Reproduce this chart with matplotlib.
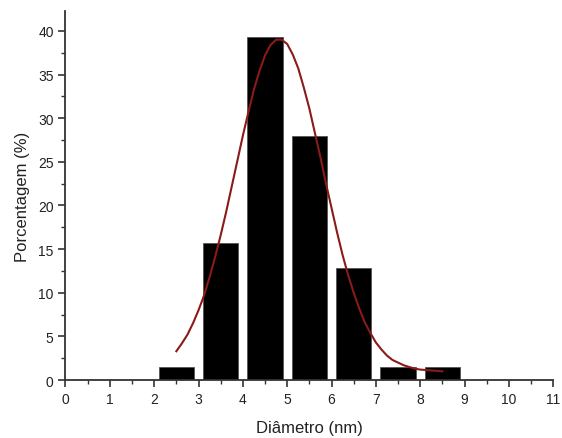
import matplotlib.pyplot as plt
from matplotlib.ticker import MultipleLocator

plt.rcParams['font.family'] = ['Liberation Sans', 'DejaVu Sans']

# histogram bins (nm) and percentages
diametro = [2.5, 3.5, 4.5, 5.5, 6.5, 7.5, 8.5]
porcentagem = [1.5, 15.7, 39.3, 28.0, 12.8, 1.5, 1.5]

# gaussian fit curve
fit_x = [2.500, 2.625, 2.750, 2.875, 3.000, 3.125, 3.250, 3.375, 3.500,
         3.625, 3.750, 3.875, 4.000, 4.125, 4.250, 4.375, 4.500, 4.625,
         4.750, 4.875, 5.000, 5.125, 5.250, 5.375, 5.500, 5.625, 5.750,
         5.875, 6.000, 6.125, 6.250, 6.375, 6.500, 6.625, 6.750, 6.875,
         7.000, 7.125, 7.250, 7.375, 7.500, 7.625, 7.750, 7.875, 8.000,
         8.125, 8.250, 8.375, 8.500]
fit_y = [3.3, 4.2, 5.2, 6.5, 8.0, 9.7, 11.8, 14.1, 16.6,
         19.3, 22.2, 25.1, 28.0, 30.7, 33.3, 35.4, 37.2, 38.4,
         39.0, 39.0, 38.5, 37.3, 35.7, 33.5, 31.1, 28.3, 25.5,
         22.5, 19.7, 16.9, 14.3, 12.0, 10.0, 8.2, 6.6, 5.4,
         4.3, 3.5, 2.8, 2.3, 2.0, 1.7, 1.5, 1.3, 1.2,
         1.15, 1.1, 1.05, 1.0]

fig = plt.figure(figsize=(5.62, 4.39), dpi=100)
ax = fig.add_axes([0.1165, 0.132, 0.868, 0.841])

ax.bar(diametro, porcentagem, width=0.8, color="black", edgecolor="#555555", linewidth=0.6, zorder=2)
ax.plot(fit_x, fit_y, color="#8b1a1a", linewidth=1.5, zorder=3)

ax.set_xlim(0, 11)
ax.set_ylim(0, 42.3)
ax.xaxis.set_major_locator(MultipleLocator(1))
ax.xaxis.set_minor_locator(MultipleLocator(0.5))
ax.yaxis.set_major_locator(MultipleLocator(5))
ax.yaxis.set_minor_locator(MultipleLocator(2.5))

for side in ["top", "right"]:
    ax.spines[side].set_visible(False)
for side in ["left", "bottom"]:
    ax.spines[side].set_color("#333333")
    ax.spines[side].set_linewidth(1.3)

ax.tick_params(which="major", direction="out", length=5, width=1.2, color="#333333",
               labelsize=10, labelcolor="#222222")
ax.tick_params(which="minor", direction="out", length=3, width=1.0, color="#333333")

ax.set_xlabel("Diâmetro (nm)", fontsize=12, color="#222222", labelpad=10)
ax.set_ylabel("Porcentagem (%)", fontsize=12, color="#222222", labelpad=6)

fig.savefig("out.png", dpi=100)
